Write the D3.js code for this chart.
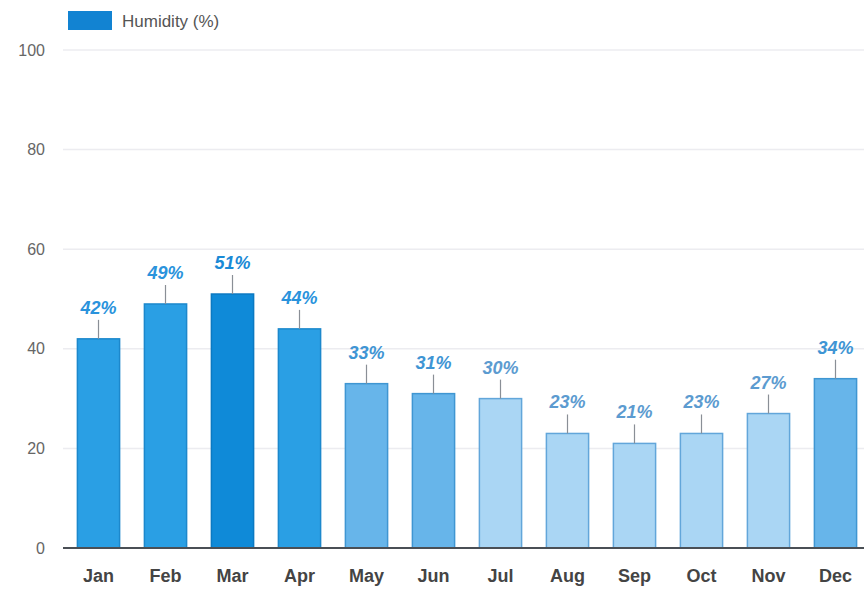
<!DOCTYPE html>
<html>
<head>
<meta charset="utf-8">
<script src="https://cdn.jsdelivr.net/npm/d3@7"></script>
<style>
  body { margin: 0; background: #fff; }
  svg { display: block; font-family: "Liberation Sans", Arial, sans-serif; }
</style>
</head>
<body>
<div id="chart"></div>
<script>
const months = ['Jan', 'Feb', 'Mar', 'Apr', 'May', 'Jun', 'Jul', 'Aug', 'Sep', 'Oct', 'Nov', 'Dec'];
const humidity = [42, 49, 51, 44, 33, 31, 30, 23, 21, 23, 27, 34];
const yTicks = [0, 20, 40, 60, 80, 100];
const seriesName = 'Humidity (%)';

// fill / stroke / label colour per month (the photo shades them by season)
const shade = {
  Jan: 'mid', Feb: 'mid', Mar: 'dark', Apr: 'mid',
  May: 'soft', Jun: 'soft', Jul: 'light', Aug: 'light',
  Sep: 'light', Oct: 'light', Nov: 'light', Dec: 'soft'
};
const palette = {
  dark:  {fill: '#0f8ad8', stroke: '#0b79c2', text: '#1a8ad6'},
  mid:   {fill: '#2a9fe4', stroke: '#1c88cc', text: '#2a93dc'},
  soft:  {fill: '#67b5ea', stroke: '#3f96d2', text: '#3f95d4'},
  light: {fill: '#aad6f4', stroke: '#62a6da', text: '#5c9bd0'}
};

const W = 864, H = 591;
const svg = d3.select('#chart').append('svg')
  .attr('width', W)
  .attr('height', H);

const x = d3.scaleBand()
  .domain(months)
  .range([64, 870])
  .paddingInner(0.37)
  .paddingOuter(0.2);

const y = d3.scaleLinear()
  .domain([0, 100])
  .range([548, 50]);

// grid
svg.append('g')
  .selectAll('line')
  .data(yTicks.filter(d => d > 0))
  .enter().append('line')
  .attr('x1', 63).attr('x2', W)
  .attr('y1', d => y(d)).attr('y2', d => y(d))
  .attr('stroke', '#ececf0')
  .attr('stroke-width', 1.5);

// y axis labels
const yAxis = d3.axisLeft(y).tickValues(yTicks).tickSize(0).tickPadding(0);
svg.append('g')
  .attr('transform', 'translate(45,0)')
  .call(yAxis)
  .call(g => g.select('.domain').remove())
  .call(g => g.selectAll('text')
    .attr('fill', '#666')
    .style('font-size', '16px')
    .style('font-family', '"Liberation Sans", Arial, sans-serif'));

// bars
const bars = svg.append('g');
bars.selectAll('rect')
  .data(months)
  .enter().append('rect')
  .attr('x', d => x(d))
  .attr('y', (d, i) => y(humidity[i]))
  .attr('width', x.bandwidth())
  .attr('height', (d, i) => y(0) - y(humidity[i]))
  .attr('fill', d => palette[shade[d]].fill)
  .attr('stroke', d => palette[shade[d]].stroke)
  .attr('stroke-width', 1.5);

// little whisker above each bar
bars.selectAll('line')
  .data(months)
  .enter().append('line')
  .attr('x1', d => x(d) + x.bandwidth() / 2)
  .attr('x2', d => x(d) + x.bandwidth() / 2)
  .attr('y1', (d, i) => y(humidity[i]))
  .attr('y2', (d, i) => y(humidity[i]) - 19)
  .attr('stroke', '#8a8f96')
  .attr('stroke-width', 1.2);

// value labels
bars.selectAll('text')
  .data(months)
  .enter().append('text')
  .attr('x', d => x(d) + x.bandwidth() / 2)
  .attr('y', (d, i) => y(humidity[i]) - 25)
  .attr('text-anchor', 'middle')
  .attr('fill', d => palette[shade[d]].text)
  .style('font-size', '18px')
  .style('font-weight', 'bold')
  .style('font-style', 'italic')
  .text((d, i) => humidity[i] + '%');

// baseline + month labels
svg.append('line')
  .attr('x1', 63).attr('x2', W)
  .attr('y1', y(0)).attr('y2', y(0))
  .attr('stroke', '#4a4f55')
  .attr('stroke-width', 2);

const xAxis = d3.axisBottom(x).tickSize(0).tickPadding(0);
svg.append('g')
  .attr('transform', 'translate(0,' + (y(0) + 21) + ')')
  .call(xAxis)
  .call(g => g.select('.domain').remove())
  .call(g => g.selectAll('text')
    .attr('fill', '#444')
    .style('font-size', '18px')
    .style('font-weight', 'bold')
    .style('font-family', '"Liberation Sans", Arial, sans-serif'));

// legend
const legend = svg.append('g');
legend.append('rect')
  .attr('x', 68).attr('y', 11)
  .attr('width', 44).attr('height', 19)
  .attr('fill', '#1283d2');
legend.append('text')
  .attr('x', 122).attr('y', 27)
  .attr('fill', '#555')
  .style('font-size', '17px')
  .text(seriesName);
</script>
</body>
</html>
